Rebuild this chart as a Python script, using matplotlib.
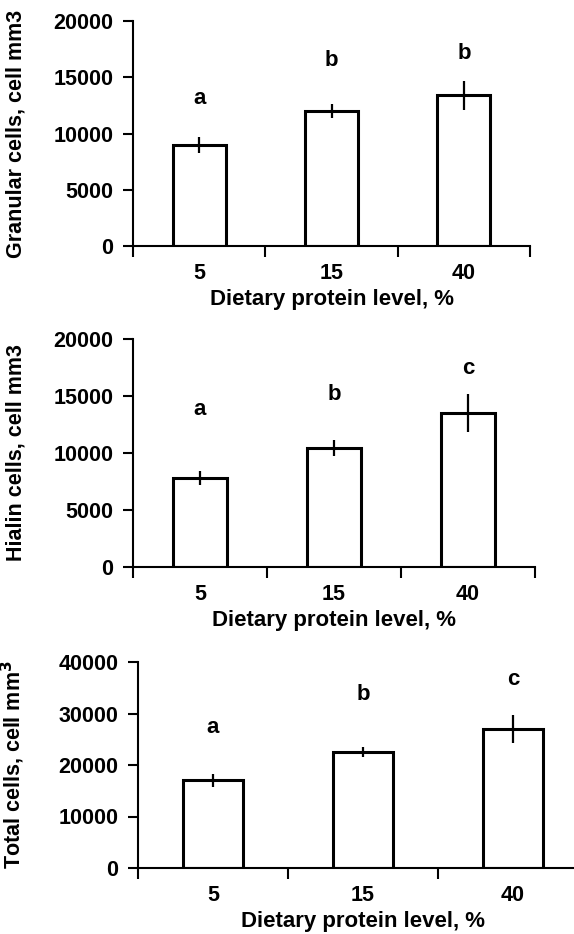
import matplotlib.pyplot as plt
import numpy as np

plt.rcParams['font.family'] = ['Liberation Sans', 'DejaVu Sans']
plt.rcParams['font.weight'] = 'bold'

levels = ["5", "15", "40"]

granular = [9000, 12000, 13400]
granular_err = [700, 650, 1300]
granular_sig = ["a", "b", "b"]
granular_sig_y = [13100, 16500, 17100]

hialin = [7800, 10400, 13500]
hialin_err = [650, 700, 1650]
hialin_sig = ["a", "b", "c"]
hialin_sig_y = [13800, 15100, 17400]

total = [17000, 22500, 27000]
total_err = [1300, 1000, 2800]
total_sig = ["a", "b", "c"]
total_sig_y = [27200, 33700, 36600]

W, H = 574, 934
fig = plt.figure(figsize=(W / 100, H / 100), dpi=100)


def px_axes(left, right, top, bottom):
    return fig.add_axes([left / W, 1 - bottom / H, (right - left) / W, (bottom - top) / H])


panels = [
    (px_axes(133, 530, 21, 246), granular, granular_err, granular_sig, granular_sig_y,
     20000, 5000, "Granular cells, cell mm3"),
    (px_axes(133, 535, 339, 567), hialin, hialin_err, hialin_sig, hialin_sig_y,
     20000, 5000, "Hialin cells, cell mm3"),
    (px_axes(138, 588, 662, 868), total, total_err, total_sig, total_sig_y,
     40000, 10000, "Total cells, cell mm$^\\mathbf{3}$"),
]

x = np.arange(len(levels)) + 0.5
for ax, vals, errs, sig, sig_y, ymax, step, ylabel in panels:
    ax.bar(x, vals, width=0.4, color="white", edgecolor="black", linewidth=2.2, zorder=2)
    ax.errorbar(x, vals, yerr=errs, fmt="none", ecolor="black", elinewidth=1.6,
                capsize=0, zorder=3)
    for xi, s, sy in zip(x, sig, sig_y):
        ax.text(xi, sy, s, ha="center", va="center", fontsize=16, fontweight="bold")

    ax.set_xlim(0, 3)
    ax.set_ylim(0, ymax)
    ax.set_yticks(np.arange(0, ymax + 1, step))
    ax.set_xticks([0, 1, 2, 3])
    ax.set_xticklabels([])
    ax.set_xticks(x, minor=True)
    ax.set_xticklabels(levels, minor=True)
    ax.tick_params(axis="x", which="major", direction="out", length=8, width=1.5)
    ax.tick_params(axis="x", which="minor", length=0, pad=12, labelsize=15.5)
    ax.tick_params(axis="y", direction="out", length=7, width=1.5, labelsize=15.5, pad=7)
    for side in ("top", "right"):
        ax.spines[side].set_visible(False)
    for side in ("left", "bottom"):
        ax.spines[side].set_linewidth(1.5)

    ax.set_xlabel("Dietary protein level, %", fontsize=16, fontweight="bold", labelpad=4)
    ax.set_ylabel(ylabel, fontsize=15.5, fontweight="bold")
    bbox = ax.get_position()
    ax.yaxis.set_label_coords((27 / W - bbox.x0) / bbox.width, 0.5)

fig.savefig("out.png", dpi=100)
